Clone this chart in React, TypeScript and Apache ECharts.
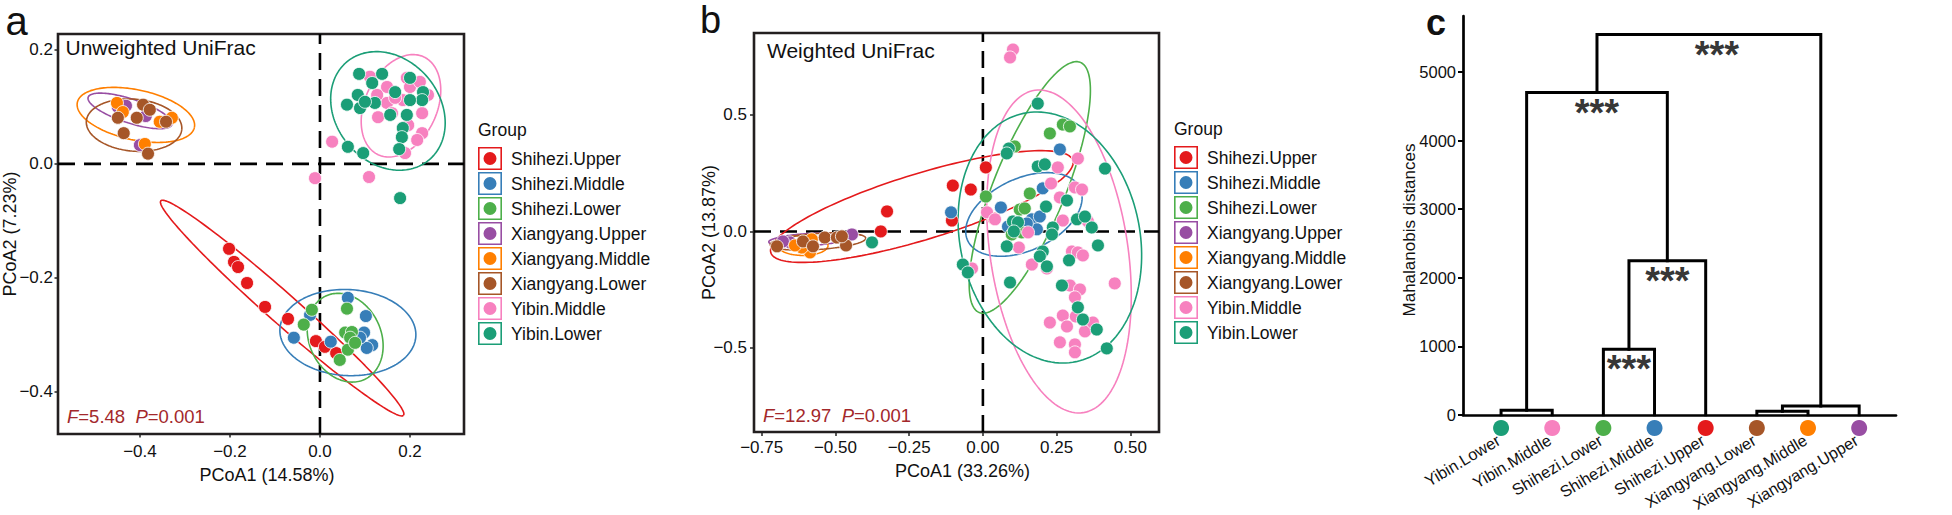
import React, { useEffect, useRef } from 'react';
import * as echarts from 'echarts';

const FONT = '"Liberation Sans", Arial, Helvetica, sans-serif';
const INK = '#111111';
const FRAME = '#231F20';
const STAT_RED = '#A3282B';

// ---------- groups ----------
const GROUPS = ['Shihezi.Upper', 'Shihezi.Middle', 'Shihezi.Lower', 'Xiangyang.Upper', 'Xiangyang.Middle', 'Xiangyang.Lower', 'Yibin.Middle', 'Yibin.Lower'];
const COLORS = ['#E41A1C', '#377EB8', '#4DAF4A', '#984EA3', '#FF7F00', '#A65628', '#F781BF', '#1B9E77'];

// ---------- panel a: Unweighted UniFrac (PCoA1, PCoA2) ----------
const UW_SHIHEZI_UPPER = [[-0.202, -0.149], [-0.191, -0.172], [-0.182, -0.181], [-0.162, -0.209], [-0.122, -0.251], [-0.071, -0.272], [-0.009, -0.311], [0.011, -0.321], [0.036, -0.332]];
const UW_SHIHEZI_MIDDLE = [[0.062, -0.235], [0.102, -0.267], [-0.058, -0.305], [-0.022, -0.265], [0.024, -0.312], [0.098, -0.296], [0.116, -0.318], [0.104, -0.323], [0.089, -0.305]];
const UW_SHIHEZI_LOWER = [[-0.018, -0.256], [-0.036, -0.282], [0.060, -0.254], [0.056, -0.296], [0.071, -0.295], [0.067, -0.305], [0.062, -0.326], [0.044, -0.344], [0.078, -0.314]];
const UW_XIANGYANG_UPPER = [[-0.449, 0.100], [-0.387, 0.084], [-0.400, 0.033], [-0.431, 0.102]];
const UW_XIANGYANG_MIDDLE = [[-0.451, 0.107], [-0.329, 0.081], [-0.389, 0.035], [-0.356, 0.074], [-0.438, 0.091]];
const UW_XIANGYANG_LOWER = [[-0.393, 0.104], [-0.407, 0.081], [-0.342, 0.074], [-0.436, 0.054], [-0.382, 0.018], [-0.449, 0.081], [-0.378, 0.095]];
const UW_YIBIN_MIDDLE = [[0.111, 0.153], [0.149, 0.135], [0.193, 0.151], [0.200, 0.135], [0.222, 0.144], [0.240, 0.121], [0.149, 0.107], [0.184, 0.112], [0.129, 0.082], [0.160, 0.089], [0.227, 0.089], [0.196, 0.068], [0.227, 0.054], [0.216, 0.042], [0.189, 0.019], [0.027, 0.039], [0.109, -0.023], [-0.011, -0.025], [0.127, 0.121], [0.167, 0.116]];
const UW_YIBIN_LOWER = [[0.087, 0.158], [0.138, 0.158], [0.116, 0.142], [0.084, 0.121], [0.060, 0.104], [0.089, 0.098], [0.122, 0.107], [0.167, 0.126], [0.200, 0.151], [0.229, 0.126], [0.227, 0.112], [0.200, 0.112], [0.193, 0.086], [0.184, 0.063], [0.182, 0.047], [0.176, 0.026], [0.062, 0.030], [0.096, 0.019], [0.178, -0.060], [0.156, 0.086], [0.100, 0.109]];

// ---------- panel b: Weighted UniFrac ----------
const W_SHIHEZI_UPPER = [[-0.325, 0.086], [-0.346, 0.0], [-0.102, 0.197], [-0.041, 0.180], [0.010, 0.275], [-0.105, 0.047], [0.037, 0.056]];
const W_SHIHEZI_MIDDLE = [[0.261, 0.352], [-0.108, 0.082], [0.061, 0.103], [0.203, 0.185], [0.166, 0.052], [0.193, 0.064], [0.085, 0.021], [0.183, 0.009], [0.149, 0.034]];
const W_SHIHEZI_LOWER = [[0.271, 0.459], [0.295, 0.451], [0.227, 0.421], [0.108, 0.365], [0.159, 0.163], [0.010, 0.150], [0.125, 0.094], [0.142, 0.099], [0.132, -0.004], [0.098, -0.013]];
const W_XIANGYANG_UPPER = [[-0.654, -0.047], [-0.678, -0.043], [-0.444, -0.013]];
const W_XIANGYANG_MIDDLE = [[-0.586, -0.090], [-0.614, -0.069], [-0.580, -0.034], [-0.637, -0.060]];
const W_XIANGYANG_LOWER = [[-0.610, -0.043], [-0.536, -0.026], [-0.495, -0.026], [-0.464, -0.060], [-0.576, -0.064], [-0.698, -0.064], [-0.478, -0.021]];
const W_YIBIN_MIDDLE = [[0.102, 0.781], [0.092, 0.747], [0.322, 0.313], [0.254, 0.275], [0.231, 0.206], [0.312, 0.189], [0.336, 0.180], [0.261, 0.146], [0.014, 0.082], [0.041, 0.052], [0.271, 0.047], [0.356, 0.043], [0.153, -0.004], [0.122, -0.069], [0.302, -0.086], [0.322, -0.090], [0.339, -0.103], [0.166, -0.142], [0.217, -0.159], [-0.037, -0.159], [0.447, -0.223], [0.295, -0.232], [0.329, -0.249], [0.312, -0.283], [0.227, -0.391], [0.271, -0.361], [0.285, -0.408], [0.346, -0.429], [0.373, -0.391], [0.261, -0.476], [0.312, -0.485], [0.312, -0.519], [0.315, -0.365]];
const W_YIBIN_LOWER = [[0.186, 0.549], [0.088, 0.356], [0.081, 0.335], [0.186, 0.279], [0.210, 0.288], [0.414, 0.270], [0.214, 0.107], [0.285, 0.133], [0.102, 0.043], [0.119, 0.039], [0.105, 0.0], [0.237, 0.017], [0.234, -0.013], [0.319, 0.052], [0.369, 0.017], [0.390, -0.060], [0.081, -0.064], [0.203, -0.086], [0.193, -0.107], [0.292, -0.124], [0.217, -0.150], [-0.068, -0.142], [-0.051, -0.176], [0.092, -0.219], [0.268, -0.232], [0.322, -0.326], [0.339, -0.378], [0.386, -0.421], [0.420, -0.502], [0.346, 0.064], [-0.376, -0.047]];

// confidence ellipses: [centerX, centerY, semiAxis1 X, semiAxis1 Y, semiAxis2 X, semiAxis2 Y]
const ELLIPSE_A = [
  [-0.084, -0.253, 0.2696, -0.1883, -0.0221, -0.0197],
  [0.062, -0.296, 0.151, -0.0063, -0.005, -0.0754],
  [0.056, -0.305, 0.0431, -0.0732, -0.0725, -0.0267],
  [-0.422, 0.093, 0.093, -0.024, -0.0082, -0.020],
  [-0.409, 0.086, 0.130, -0.022, -0.0116, -0.043],
  [-0.413, 0.068, 0.106, -0.0074, -0.0051, -0.0454],
  [0.180, 0.102, 0.0507, 0.0858, 0.0724, -0.0267],
  [0.151, 0.093, 0.0914, -0.086, -0.0885, -0.0586],
];
const ELLIPSE_B = [
  [-0.207, 0.107, 0.512, 0.198, 0.0325, -0.1356],
  [0.139, 0.073, 0.1905, 0.1124, 0.0515, -0.140],
  [0.159, 0.189, 0.1715, 0.537, 0.1132, -0.058],
  [-0.59, -0.035, 0.136, 0.010, 0.0, -0.026],
  [-0.61, -0.06, 0.085, 0.0, 0.0, -0.043],
  [-0.559, -0.043, 0.162, 0.0142, 0.0019, -0.0343],
  [0.258, -0.086, 0.0817, -0.692, -0.231, -0.0438],
  [0.227, -0.026, 0.0895, -0.533, -0.298, -0.0803],
];

const POINTS_A = [UW_SHIHEZI_UPPER, UW_SHIHEZI_MIDDLE, UW_SHIHEZI_LOWER, UW_XIANGYANG_UPPER, UW_XIANGYANG_MIDDLE, UW_XIANGYANG_LOWER, UW_YIBIN_MIDDLE, UW_YIBIN_LOWER];
const POINTS_B = [W_SHIHEZI_UPPER, W_SHIHEZI_MIDDLE, W_SHIHEZI_LOWER, W_XIANGYANG_UPPER, W_XIANGYANG_MIDDLE, W_XIANGYANG_LOWER, W_YIBIN_MIDDLE, W_YIBIN_LOWER];

// ---------- panel c: dendrogram (hclust-style merge table) ----------
const LEAVES = ['Yibin.Lower', 'Yibin.Middle', 'Shihezi.Lower', 'Shihezi.Middle', 'Shihezi.Upper', 'Xiangyang.Lower', 'Xiangyang.Middle', 'Xiangyang.Upper'];
const MERGE = [[-1, -2], [-3, -4], [2, -5], [1, 3], [-6, -7], [5, -8], [4, 6]];
const MERGE_HEIGHT = [70, 960, 2250, 4700, 55, 130, 5545];
const SIG_STARS = [[3.5, 960], [4.25, 2250], [2.875, 4700], [5.22, 5545]];
const C_Y_TICKS = [0, 1000, 2000, 3000, 4000, 5000];

// axis extents
const AX = [-0.582, 0.32];
const AY = [-0.474, 0.228];
const BX = [-0.776, 0.597];
const BY = [-0.861, 0.852];
const CX = [0.256, 8.72];
const CY = [0, 5816];

const fmt = (d: number) => (v: number) => (v < -1e-9 ? '\u2212' : '') + Math.abs(v).toFixed(d);

function ellipsePts(e: number[], n = 160) {
  const [cx, cy, ux, uy, vx, vy] = e;
  const pts: number[][] = [];
  for (let i = 0; i <= n; i++) {
    const t = (2 * Math.PI * i) / n;
    pts.push([cx + ux * Math.cos(t) + vx * Math.sin(t), cy + uy * Math.cos(t) + vy * Math.sin(t)]);
  }
  return pts;
}

function nodePos(node: number): number {
  if (node < 0) return -node;
  const [l, r] = MERGE[node - 1];
  return (nodePos(l) + nodePos(r)) / 2;
}
function nodeHeight(node: number): number {
  return node < 0 ? 0 : MERGE_HEIGHT[node - 1];
}

const KEY_ICON = 'path://M0 0H24V23H0Z M1.6 1.6V21.4H22.4V1.6Z M12 5A6.5 6.5 0 1 0 12 18A6.5 6.5 0 1 0 12 5Z';

function buildOption() {
  const series: any[] = [];
  const panels = [
    { gi: 0, pts: POINTS_A, ell: ELLIPSE_A, xr: AX, yr: AY },
    { gi: 1, pts: POINTS_B, ell: ELLIPSE_B, xr: BX, yr: BY },
  ];
  panels.forEach((p) => {
    series.push({
      type: 'line', name: 'zero-v-' + p.gi, xAxisIndex: p.gi, yAxisIndex: p.gi,
      data: [[0, p.yr[0]], [0, p.yr[1]]], symbol: 'none', silent: true, z: 1,
      lineStyle: { color: '#000', width: 2.6, type: [17, 9] },
    });
    series.push({
      type: 'line', name: 'zero-h-' + p.gi, xAxisIndex: p.gi, yAxisIndex: p.gi,
      data: [[p.xr[0], 0], [p.xr[1], 0]], symbol: 'none', silent: true, z: 1,
      lineStyle: { color: '#000', width: 2.6, type: [17, 9] },
    });
    GROUPS.forEach((g, i) => {
      series.push({
        type: 'line', name: g + ' ellipse ' + p.gi, xAxisIndex: p.gi, yAxisIndex: p.gi,
        data: ellipsePts(p.ell[i]), symbol: 'none', silent: true, z: 2,
        lineStyle: { color: COLORS[i], width: 1.6 },
      });
    });
    GROUPS.forEach((g, i) => {
      series.push({
        type: 'scatter', name: g, xAxisIndex: p.gi, yAxisIndex: p.gi,
        data: p.pts[i], symbolSize: 13, z: 3,
        itemStyle: { color: COLORS[i], opacity: 1, borderColor: '#ffffff', borderWidth: 0.8 },
      });
    });
  });

  // dendrogram
  MERGE.forEach((m, k) => {
    const [l, r] = m;
    const h = MERGE_HEIGHT[k];
    series.push({
      type: 'line', name: 'merge-' + k, xAxisIndex: 2, yAxisIndex: 2, symbol: 'none', silent: true, z: 3,
      data: [[nodePos(l), nodeHeight(l)], [nodePos(l), h], [nodePos(r), h], [nodePos(r), nodeHeight(r)]],
      lineStyle: { color: '#000', width: 3, cap: 'square', join: 'miter' },
    });
  });
  series.push({
    type: 'scatter', name: 'leaves', xAxisIndex: 2, yAxisIndex: 2, clip: false, z: 4, silent: true,
    symbolSize: 16, symbolOffset: [0, 13],
    data: LEAVES.map((name, i) => ({ value: [i + 1, 0], itemStyle: { color: COLORS[GROUPS.indexOf(name)], opacity: 1 } })),
  });
  series.push({
    type: 'scatter', name: 'significance', xAxisIndex: 2, yAxisIndex: 2, clip: false, z: 5, silent: true,
    symbolSize: 0.1, itemStyle: { color: 'transparent' },
    data: SIG_STARS,
    label: {
      show: true, formatter: '***', position: 'bottom', distance: 1,
      fontSize: 38, fontWeight: 'bold', color: '#000', fontFamily: FONT,
    },
  });

  const valueAxis = (gi: number, range: number[], ticks: number[], dec: number, extra: any) => ({
    gridIndex: gi, type: 'value', min: range[0], max: range[1],
    axisLine: { show: false, onZero: false },
    splitLine: { show: false },
    axisTick: { show: true, length: extra.tick, customValues: ticks, lineStyle: { color: '#222', width: 1.5 } },
    axisLabel: { show: true, customValues: ticks, formatter: fmt(dec), fontSize: 17, color: INK, fontFamily: FONT, margin: extra.margin },
    name: extra.name, nameLocation: 'middle', nameGap: extra.nameGap, nameMoveOverlap: false,
    nameTextStyle: { fontSize: 18, color: INK, fontFamily: FONT, padding: extra.namePad || 0 },
  });

  const legendBase = {
    orient: 'vertical', padding: 0, itemWidth: 24, itemHeight: 23, itemGap: 2, selectedMode: false,
    data: GROUPS.map((g) => ({ name: g, icon: KEY_ICON })),
    itemStyle: { borderWidth: 0 },
    textStyle: { fontSize: 17.5, color: INK, fontFamily: FONT, padding: [0, 0, 0, 4] },
  };

  const txt = (text: string, x: number, y: number, size: number, extra: any = {}) => ({
    type: 'text', x, y, silent: true,
    style: { text, fill: INK, fontSize: size, fontFamily: FONT, textAlign: 'left', textVerticalAlign: 'middle', ...extra },
  });

  return {
    animation: false,
    textStyle: { fontFamily: FONT },
    grid: [
      { left: 58, top: 34, width: 406, height: 400, show: true, borderColor: FRAME, borderWidth: 2.6, backgroundColor: 'transparent', containLabel: false, outerBoundsMode: 'none' },
      { left: 754, top: 33, width: 405, height: 399, show: true, borderColor: FRAME, borderWidth: 2.6, backgroundColor: 'transparent', containLabel: false, outerBoundsMode: 'none' },
      { left: 1463, top: 16, width: 433, height: 399, show: false, containLabel: false, outerBoundsMode: 'none' },
    ],
    xAxis: [
      valueAxis(0, AX, [-0.4, -0.2, 0, 0.2], 1, { tick: 3.5, margin: 9, name: 'PCoA1 (14.58%)', nameGap: 32, namePad: [0, 0, 0, 12] }),
      valueAxis(1, BX, [-0.75, -0.5, -0.25, 0, 0.25, 0.5], 2, { tick: 4, margin: 7, name: 'PCoA1 (33.26%)', nameGap: 30, namePad: [0, 0, 0, 12] }),
      {
        gridIndex: 2, type: 'value', min: CX[0], max: CX[1],
        axisLine: { show: true, onZero: false, lineStyle: { color: '#000', width: 2.7 } },
        splitLine: { show: false }, axisTick: { show: false },
        axisLabel: {
          show: true, customValues: [1, 2, 3, 4, 5, 6, 7, 8], rotate: 31, margin: 22, padding: [0, 3, 0, 0],
          formatter: (v: number) => LEAVES[Math.round(v) - 1], fontSize: 16.3, color: INK, fontFamily: FONT,
        },
      },
    ],
    yAxis: [
      valueAxis(0, AY, [-0.4, -0.2, 0, 0.2], 1, { tick: 3.5, margin: 5, name: 'PCoA2 (7.23%)', nameGap: 39 }),
      valueAxis(1, BY, [-0.5, 0, 0.5], 1, { tick: 4, margin: 7, name: 'PCoA2 (13.87%)', nameGap: 36 }),
      {
        gridIndex: 2, type: 'value', min: CY[0], max: CY[1],
        axisLine: { show: true, onZero: false, lineStyle: { color: '#000', width: 2.7 } },
        splitLine: { show: false },
        axisTick: { show: true, length: 5, customValues: C_Y_TICKS, lineStyle: { color: '#000', width: 2 } },
        axisLabel: { show: true, customValues: C_Y_TICKS, formatter: (v: number) => String(v), fontSize: 16.5, color: INK, fontFamily: FONT, margin: 7 },
      },
    ],
    legend: [
      { ...legendBase, left: 478, top: 147 },
      { ...legendBase, left: 1174, top: 146 },
    ],
    graphic: [
      txt('a', 5.5, 21, 40),
      txt('b', 700, 20, 38),
      txt('c', 1426, 22.5, 36, { fontWeight: 'bold' }),
      txt('Unweighted UniFrac', 65.5, 47, 21),
      txt('Weighted UniFrac', 767, 50.7, 21),
      txt('{i|F}=5.48  {i|P}=0.001', 67, 416.5, 18.5, { fill: STAT_RED, rich: { i: { fontStyle: 'italic', fontSize: 18.5, fontFamily: FONT, fill: STAT_RED } } }),
      txt('{i|F}=12.97  {i|P}=0.001', 763, 415.5, 18.5, { fill: STAT_RED, rich: { i: { fontStyle: 'italic', fontSize: 18.5, fontFamily: FONT, fill: STAT_RED } } }),
      txt('Group', 478, 130.4, 17.5),
      txt('Group', 1174, 129, 17.5),
      {
        type: 'text', x: 1409, y: 230, rotation: Math.PI / 2, silent: true,
        style: { text: 'Mahalanobis distances', fill: INK, fontSize: 17, fontFamily: FONT, textAlign: 'center', textVerticalAlign: 'middle' },
      },
    ],
    series,
  };
}

export default function App() {
  const ref = useRef<HTMLDivElement>(null);
  useEffect(() => {
    document.body.style.margin = '0';
    const chart = echarts.init(ref.current as HTMLDivElement, null, { renderer: 'svg' });
    chart.setOption(buildOption() as any);
    return () => chart.dispose();
  }, []);
  return <div ref={ref} style={{ position: 'absolute', left: 0, top: 0, width: 1952, height: 515, background: '#fff' }} />;
}
